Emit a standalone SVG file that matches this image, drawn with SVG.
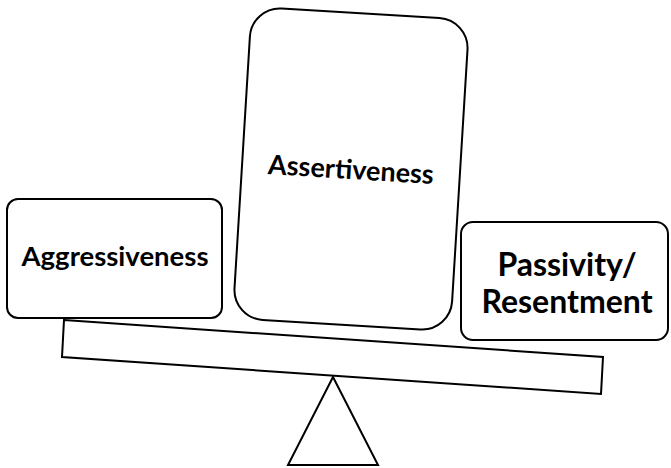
<svg xmlns="http://www.w3.org/2000/svg" width="671" height="468" viewBox="0 0 671 468">
<style>
.shape{fill:#fff;stroke:#000;stroke-width:2;stroke-linejoin:miter}
.lbl{font-family:Lato,"Liberation Sans",Arial,sans-serif;font-weight:bold;fill:#000;text-anchor:middle}
</style>
<rect width="671" height="468" fill="#fff"/>
<g id="fulcrum">
<polygon class="shape" points="333,377 288,465 378,465"/>
</g>
<g id="plank">
<polygon class="shape" points="64,320 603,357 601,394 62,357"/>
</g>
<g id="aggressiveness">
<rect class="shape" x="7" y="199" width="215" height="119" rx="11"/>
<text class="lbl" x="115" y="266" font-size="27.5">Aggressiveness</text>
</g>
<g id="assertiveness" transform="translate(351,169) rotate(3.5)">
<rect class="shape" x="-109" y="-156" width="218" height="312" rx="30"/>
<text class="lbl" x="0" y="10" font-size="27">Assertiveness</text>
</g>
<g id="passivity">
<rect class="shape" x="461" y="222" width="207" height="118" rx="12"/>
<text class="lbl" x="567" y="276" font-size="32">Passivity/</text>
<text class="lbl" x="567" y="313" font-size="32">Resentment</text>
</g>
</svg>
